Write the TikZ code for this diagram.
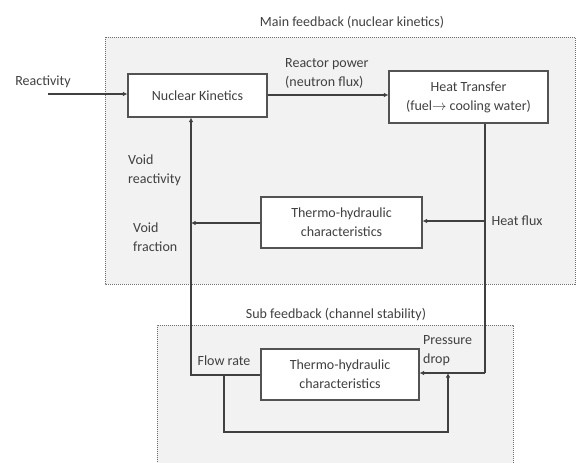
\documentclass[tikz,border=0pt]{standalone}
\usepackage{fontspec}
\setmainfont{Carlito}
\usetikzlibrary{positioning,arrows.meta}

\definecolor{inkgray}{HTML}{404040}
\definecolor{framegray}{HTML}{6E6E6E}
\definecolor{panelgray}{HTML}{F2F2F2}

\tikzset{
	block/.style={draw=inkgray!90,fill=white,line width=1.1pt,minimum width=#1,inner sep=2pt,align=center,text=inkgray},
	block/.default=150pt,
	label text/.style={text=inkgray,align=left,inner sep=0pt},
	flow/.style={draw=inkgray,line width=1.2pt,-{Latex[length=4.5pt,width=4.5pt]}},
	wire/.style={draw=inkgray,line width=1.2pt},
	panel/.style={fill=panelgray},
	panel edge/.style={draw=framegray,line width=1pt,densely dotted}
}

\begin{document}
\begin{tikzpicture}[x=1pt,y=-1pt,font=\fontsize{14}{19}\selectfont]
	\clip (0,0) rectangle (576,463);
	
	%MAIN FEEDBACK
	\fill[panel] (105,37) rectangle (575,284);
	\draw[panel edge] (105,37) rectangle (575,284);
	\node[label text] (maintitle) at (352,22) {Main feedback (nuclear kinetics)};
	
	%SUB FEEDBACK
	\fill[panel] (157,325) rectangle (513,470);
	\draw[panel edge] (157,470)--(157,325)--(513,325)--(513,470);
	\node[label text] (subtitle) at (336,315) {Sub feedback (channel stability)};
	
	%BLOCKS
	\node[block=139pt,minimum height=43pt] (kinetics) at (197.5,95.5) {Nuclear Kinetics};
	\node[block=159pt,minimum height=52pt] (heat) at (468.5,97) {Heat Transfer\\(fuel$\rightarrow$ cooling water)};
	\node[block=161pt,minimum height=51pt] (thermomain) at (341.5,222.5) {Thermo-hydraulic\\characteristics};
	\node[block=158pt,minimum height=51pt] (thermosub) at (340,374.5) {Thermo-hydraulic\\characteristics};
	
	%JUNCTIONS
	\coordinate (reactin) at (48,94);
	\coordinate (heatflux) at (485,221);
	\coordinate (pressure) at (485,373);
	\coordinate (flowrate) at (191,375);
	\coordinate (loopleft) at (224,432);
	\coordinate (loopright) at (448,432);
	
	%CONNECTORS
	\draw[flow] (reactin)--(kinetics.west |- reactin);
	\draw[flow] (kinetics.east |- 0,95)--(heat.west |- 0,95);
	\draw[wire] (heat.south -| heatflux)--(pressure);
	\draw[flow] (heatflux)--(thermomain.east |- heatflux);
	\draw[flow] (pressure)--(thermosub.east |- pressure);
	\draw[flow] (thermosub.west |- flowrate)--(flowrate)--(kinetics.south -| flowrate);
	\draw[flow] (thermomain.west |- 0,223)--(flowrate |- 0,223);
	\draw[flow] (loopleft |- flowrate)--(loopleft)--(loopright)--(loopright |- pressure);
	
	%LABELS
	\node[label text] (reactivity) at (43,82) {Reactivity};
	\node[label text,anchor=west] (power) at (285,73.5) {Reactor power\\(neutron flux)};
	\node[label text,anchor=west] (voidreact) at (128,170) {Void\\reactivity};
	\node[label text,anchor=west] (voidfrac) at (133,237.5) {Void\\fraction};
	\node[label text] (heatfluxlabel) at (517,221) {Heat flux};
	\node[label text] (flowlabel) at (224,361) {Flow rate};
	\node[label text,anchor=west] (pressurelabel) at (423,350.5) {Pressure\\drop};
\end{tikzpicture}
\end{document}
